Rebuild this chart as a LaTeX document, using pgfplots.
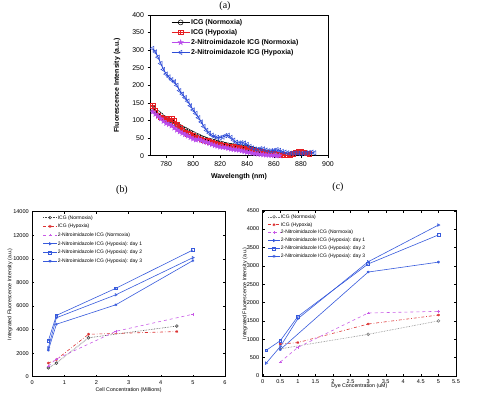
\documentclass[border=0pt]{standalone}
\usepackage{fontspec}
\setmainfont{Liberation Sans}
\newfontfamily\seriffont{Liberation Serif}
\usepackage{pgfplots}
\pgfplotsset{compat=1.18}
\usetikzlibrary{plotmarks}

\definecolor{ared}{RGB}{230,30,35}
\definecolor{apurple}{RGB}{185,75,235}
\definecolor{ablue}{RGB}{45,75,215}
\definecolor{bblue}{RGB}{55,90,220}
\definecolor{bred}{RGB}{220,50,50}
\definecolor{bpurple}{RGB}{200,90,230}
\definecolor{bgrey}{RGB}{70,70,70}

\pgfdeclareplotmark{boxplus}{%
 \pgfpathrectangle{\pgfqpoint{-\pgfplotmarksize}{-\pgfplotmarksize}}{\pgfqpoint{2\pgfplotmarksize}{2\pgfplotmarksize}}%
 \pgfpathmoveto{\pgfqpoint{-\pgfplotmarksize}{0pt}}\pgfpathlineto{\pgfqpoint{\pgfplotmarksize}{0pt}}%
 \pgfpathmoveto{\pgfqpoint{0pt}{-\pgfplotmarksize}}\pgfpathlineto{\pgfqpoint{0pt}{\pgfplotmarksize}}%
 \pgfusepathqstroke}
\pgfdeclareplotmark{fstar}{%
 \pgfpathmoveto{\pgfqpointpolar{90}{\pgfplotmarksize}}%
 \pgfpathlineto{\pgfqpointpolar{126}{0.4\pgfplotmarksize}}%
 \pgfpathlineto{\pgfqpointpolar{162}{\pgfplotmarksize}}%
 \pgfpathlineto{\pgfqpointpolar{198}{0.4\pgfplotmarksize}}%
 \pgfpathlineto{\pgfqpointpolar{234}{\pgfplotmarksize}}%
 \pgfpathlineto{\pgfqpointpolar{270}{0.4\pgfplotmarksize}}%
 \pgfpathlineto{\pgfqpointpolar{306}{\pgfplotmarksize}}%
 \pgfpathlineto{\pgfqpointpolar{342}{0.4\pgfplotmarksize}}%
 \pgfpathlineto{\pgfqpointpolar{18}{\pgfplotmarksize}}%
 \pgfpathlineto{\pgfqpointpolar{54}{0.4\pgfplotmarksize}}%
 \pgfpathclose\pgfusepathqfillstroke}

\pgfplotstableread{
x y
770 135
772 128
774 121
776 115
778 108
780 102
782 99
784 96
786 92
788 87
790 82
792 78
794 74
796 70
798 66
800 62
802 58
804 55
806 51
808 48
810 45
812 43
814 41
816 39
818 37
820 35
822 33
824 31
826 29
828 28
830 27
832 26
834 25
836 24
838 23
840 22
842 20
844 19
846 17
848 14
850 12
852 10
854 9
856 7
858 5
860 4
862 3
864 2
866 1
}\icgn
\pgfplotstableread{
x y
770 142
772 128
774 115
776 109
778 106
780 105
782 107
784 105
786 99
788 90
790 81
792 73
794 67
796 62
798 59
800 57
802 53
804 50
806 47
808 44
810 42
812 40
814 37
816 35
818 33
820 31
822 30
824 28
826 27
828 26
830 25
832 24
834 23
836 22
838 21
840 20
842 18
844 16
846 15
848 13
850 12
852 10
854 9
856 7
858 6
860 5
862 4
864 3
866 3
868 2
870 2
872 3
874 5
876 9
878 12
880 11
882 9
884 7
886 6
}\icgh
\pgfplotstableread{
x y
770 125
772 118
774 112
776 105
778 98
780 92
782 89
784 85
786 79
788 73
790 68
792 64
794 60
796 56
798 52
800 48
802 45
804 47
806 43
808 40
810 38
812 35
814 32
816 29
818 27
820 25
822 24
824 23
826 21
828 19
830 18
832 17
834 16
836 14
838 12
840 10
842 9
844 7
846 6
848 5
850 4
852 3
854 2
856 2
858 1
860 1
862 0
864 0
}\nitn
\pgfplotstableread{
x y
770 305
772 295
774 280
776 262
778 245
780 232
782 224
784 216
786 210
788 200
790 185
792 175
794 165
796 155
798 142
800 130
802 120
804 108
806 96
808 83
810 72
812 64
814 58
816 54
818 52
820 51
822 53
824 57
826 58
828 52
830 44
832 38
834 36
836 37
838 36
840 32
842 26
844 22
846 19
848 18
850 20
852 19
854 16
856 14
858 14
860 15
862 17
864 15
866 12
868 10
870 8
872 7
874 7
876 8
878 7
880 6
882 7
884 8
886 9
888 10
890 8
}\nith

\pgfplotsset{
 smallpanel/.style={
  scale only axis,
  tick align=inside, major tick length=2bp,
  tick label style={font=\fontsize{5.6}{6}\selectfont},
  label style={font=\fontsize{5.3}{6}\selectfont},
  /pgf/number format/assume math mode=true,
  /pgf/number format/1000 sep={},
  scaled ticks=false,
  axis line style={line width=0.5bp}, every tick/.style={line width=0.4bp,black},
  legend cell align=left,
  every axis plot/.append style={line width=0.6bp, mark size=1.4bp},
 },
}

\begin{document}
\begin{tikzpicture}
\path[use as bounding box] (0bp,0bp) rectangle (480bp,401bp);

\node[font=\seriffont\fontsize{10}{12}\selectfont] at (225bp,395bp) {(a)};
\node[font=\seriffont\fontsize{10}{12}\selectfont] at (122bp,211bp) {(b)};
\node[font=\seriffont\fontsize{10}{12}\selectfont] at (338bp,214bp) {(c)};

% ---------------- panel (a)
\begin{axis}[
 at={(150bp,245.3bp)}, anchor=south west, scale only axis,
 width=178bp, height=140.7bp,
 xmin=768, xmax=900, ymin=0, ymax=400,
 xtick={780,800,...,900}, ytick={0,50,...,400},
 tick align=outside, xtick pos=bottom, ytick pos=left, major tick length=2.5bp,
 tick label style={font=\fontsize{7}{8}\selectfont},
 /pgf/number format/assume math mode=true,
 xlabel={Wavelength (nm)}, ylabel={Fluorescence Intensity (a.u.)},
 label style={font=\fontsize{7}{8}\selectfont\bfseries},
 xlabel style={at={(rel axis cs:0.5,-0.1514)}, anchor=center},
 ylabel style={at={(rel axis cs:-0.1854,0.5)}, anchor=center},
 axis line style={line width=0.7bp}, every tick/.style={line width=0.6bp,black},
 legend cell align=left,
 legend style={at={(rel axis cs:0.118,0.98)}, anchor=north west, draw=none, fill=none,
   font=\fontsize{7}{8}\selectfont\bfseries, inner sep=0pt,
   nodes={inner sep=1bp, text height=5.2bp, text depth=1.6bp}, row sep=1.2bp},
 legend image code/.code={\draw[mark repeat=2,mark phase=2] plot coordinates {(0bp,0bp) (9bp,0bp) (18bp,0bp)};},
 every axis plot/.append style={line width=0.9bp, mark size=2.5bp},
]
\addplot[black, mark=o, mark options={line width=0.5bp}] table {\icgn};
\addlegendentry{ICG (Normoxia)}
\addplot[ared, mark=boxplus, mark options={line width=0.5bp, mark size=2.2bp}] table {\icgh};
\addlegendentry{ICG (Hypoxia)}
\addplot[apurple, mark=fstar, mark options={fill=apurple, line width=0.3bp, mark size=2.8bp}] table {\nitn};
\addlegendentry{2-Nitroimidazole ICG (Normoxia)}
\addplot[ablue, mark=triangle, mark options={rotate=90, line width=0.5bp}] table {\nith};
\addlegendentry{2-Nitroimidazole ICG (Hypoxia)}
\end{axis}

% ---------------- panel (b)
\begin{axis}[smallpanel,
 at={(32.3bp,24.3bp)}, anchor=south west,
 width=192.7bp, height=165bp,
 xmin=0, xmax=6, ymin=0, ymax=14000,
 xtick={0,1,...,6}, ytick={0,2000,...,14000},
 xlabel={Cell Concentration (Millions)},
 ylabel={Integrated Fluorescence Intensity (a.u.)},
 xlabel style={at={(rel axis cs:0.5,-0.0806)}, anchor=center},
 ylabel style={at={(rel axis cs:-0.1157,0.5)}, anchor=center},
 legend style={at={(rel axis cs:0.053,0.983)}, anchor=north west, draw=none, fill=none,
   font=\fontsize{5}{6}\selectfont, inner sep=0pt,
   nodes={inner sep=0.5bp, text height=3.8bp, text depth=1.1bp}, row sep=2.8bp},
 legend image code/.code={\draw[mark repeat=2,mark phase=2] plot coordinates {(0bp,0bp) (7bp,0bp) (14bp,0bp)};},
]
\addplot[bgrey, densely dotted, mark=o, mark options={solid}] coordinates {(0.5,750) (0.75,1150) (1.75,3300) (4.5,4300)};
\addlegendentry{ICG (Normoxia)}
\addplot[bred, dash dot, mark=asterisk, mark options={solid}] coordinates {(0.5,1150) (0.75,1450) (1.75,3600) (4.5,3830)};
\addlegendentry{ICG (Hypoxia)}
\addplot[bpurple, dashed, mark=+, mark options={solid}] coordinates {(0.5,900) (0.75,1500) (2.6,3850) (5,5300)};
\addlegendentry{2-Nitroimidazole ICG (Normoxia)}
\addplot[bblue, mark=triangle, mark options={rotate=-90}] coordinates {(0.5,2450) (0.75,5000) (2.6,6950) (5,10100)};
\addlegendentry{2-Nitroimidazole ICG (Hypoxia):  day 1}
\addplot[bblue, mark=square] coordinates {(0.5,3050) (0.75,5200) (2.6,7500) (5,10750)};
\addlegendentry{2-Nitroimidazole ICG (Hypoxia):  day 2}
\addplot[bblue, mark=asterisk] coordinates {(0.5,2250) (0.75,4450) (2.6,6100) (5,9850)};
\addlegendentry{2-Nitroimidazole ICG (Hypoxia):  day 3}
\end{axis}

% ---------------- panel (c)
\begin{axis}[smallpanel,
 at={(262.7bp,25bp)}, anchor=south west,
 width=193.3bp, height=165.3bp,
 xmin=0, xmax=5.5, ymin=0, ymax=4500,
 xtick={0,0.5,...,5.5}, ytick={0,500,...,4500},
 xlabel={Dye Concentration (uM)},
 ylabel={Integrated Fluorescence Intensity (a.u.)},
 xlabel style={at={(rel axis cs:0.5,-0.0605)}, anchor=center},
 ylabel style={at={(rel axis cs:-0.0916,0.5)}, anchor=center},
 legend style={at={(rel axis cs:0.025,0.982)}, anchor=north west, draw=none, fill=none,
   font=\fontsize{5}{6}\selectfont, inner sep=0pt,
   nodes={inner sep=0.5bp, text height=3.8bp, text depth=1.1bp}, row sep=2bp},
 legend image code/.code={\draw[mark repeat=2,mark phase=2] plot coordinates {(0bp,0bp) (6bp,0bp) (12bp,0bp)};},
]
\addplot[bgrey!70, densely dotted, mark=o, mark options={solid}] coordinates {(0.5,740) (3,1135) (5,1500)};
\addlegendentry{ICG (Normoxia)}
\addplot[bred, dash dot, mark=asterisk, mark options={solid}] coordinates {(0.5,870) (1,910) (3,1415) (5,1660)};
\addlegendentry{ICG (Hypoxia)}
\addplot[bpurple, dashed, mark=+, mark options={solid}] coordinates {(0.5,380) (1,780) (3,1715) (5,1760)};
\addlegendentry{2-Nitroimidazole ICG (Normoxia)}
\addplot[bblue, mark=triangle, mark options={rotate=-90}] coordinates {(0.1,350) (0.5,800) (1,1560) (3,3110) (5,4110)};
\addlegendentry{2-Nitroimidazole ICG (Hypoxia):  day 1}
\addplot[bblue, mark=square] coordinates {(0.1,700) (0.5,960) (1,1620) (3,3050) (5,3840)};
\addlegendentry{2-Nitroimidazole ICG (Hypoxia):  day 2}
\addplot[bblue, mark=asterisk] coordinates {(0.5,720) (3,2830) (5,3100)};
\addlegendentry{2-Nitroimidazole ICG (Hypoxia):  day 3}
\end{axis}
\end{tikzpicture}
\end{document}
